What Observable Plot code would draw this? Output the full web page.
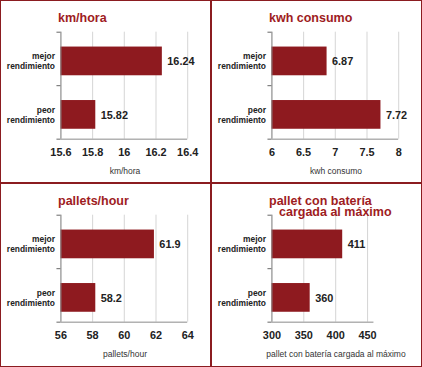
<!DOCTYPE html>
<html><head><meta charset="utf-8">
<script src="https://cdn.jsdelivr.net/npm/d3@7"></script>
<script src="https://cdn.jsdelivr.net/npm/@observablehq/plot@0.6"></script>
<style>
body{margin:0;background:#fff;font-family:"Liberation Sans",Arial,sans-serif;}
#wrap{position:relative;width:422px;height:367px;}
.panel{position:absolute;box-sizing:border-box;border:1px solid #8b1c20;overflow:hidden;}
.panel svg{position:absolute;left:-1px;top:-1px;}
.title{position:absolute;left:57px;top:12px;font-weight:bold;font-size:12.5px;color:#9e1c22;line-height:10.5px;white-space:pre;padding-left:10px;text-indent:-10px;}
.xlabel{position:absolute;left:0;width:248px;text-align:center;font-size:8.5px;line-height:10px;color:#333;white-space:nowrap;}
</style></head>
<body>
<div id="wrap"></div>
<script>
const categories = ["mejor\nrendimiento", "peor\nrendimiento"];
const titles = ["km/hora", "kwh consumo", "pallets/hour", "pallet con batería\ncargada al máximo"];
const axisLabels = ["km/hora", "kwh consumo", "pallets/hour", "pallet con batería cargada al máximo"];
const kmHora = [16.24, 15.82];
const kwhConsumo = [6.87, 7.72];
const palletsHour = [61.9, 58.2];
const palletBateria = [411, 360];
const domains = [[15.6, 16.4], [6, 8], [56, 64], [300, 460]];
const tickValues = [[15.6, 15.8, 16, 16.2, 16.4], [6, 6.5, 7, 7.5, 8], [56, 58, 60, 62, 64], [300, 350, 400, 450]];
const series = [kmHora, kwhConsumo, palletsHour, palletBateria];

const panels = [
  {left: 0, top: 0, w: 211, h: 183, mr: 22},
  {left: 211, top: 0, w: 211, h: 183, mr: 22},
  {left: 0, top: 183, w: 211, h: 184, mr: 22},
  {left: 211, top: 183, w: 211, h: 184, mr: 47}
];

const wrap = document.getElementById("wrap");
const font = '"Liberation Sans", Arial, sans-serif';

panels.forEach((p, i) => {
  const data = categories.map((c, j) => ({cat: c, value: series[i][j]}));
  const x0 = domains[i][0];
  const last = categories[categories.length - 1];
  const div = document.createElement("div");
  div.className = "panel";
  Object.assign(div.style, {left: p.left + "px", top: p.top + "px", width: p.w + "px", height: p.h + "px"});
  const chart = Plot.plot({
    width: p.w, height: p.h,
    marginLeft: 61, marginRight: p.mr, marginTop: 32, marginBottom: p.h - 140,
    x: {domain: domains[i], ticks: tickValues[i], tickFormat: d => String(d), tickSize: 0, tickPadding: 9, label: null},
    y: {domain: categories, padding: 0, axis: null},
    style: {fontFamily: font, fontSize: "11px", fontWeight: "bold", color: "#222", background: "transparent", overflow: "visible"},
    marks: [
      Plot.gridX(tickValues[i], {stroke: "#d4d4d4", strokeOpacity: 1}),
      Plot.barX(data, {x1: x0, x2: "value", y: "cat", fill: "#8e1a1f", insetTop: 15, insetBottom: 10}),
      Plot.ruleX([x0], {stroke: "#8a8a8a"}),
      Plot.ruleY([last], {y: d => d, dy: 27, stroke: "#8a8a8a"}),
      Plot.ruleY(categories, {y: d => d, x1: x0, x2: x0, insetLeft: -4, dy: -27, stroke: "#666"}),
      Plot.ruleY([last], {y: d => d, x1: x0, x2: x0, insetLeft: -4, dy: 27, stroke: "#666"}),
      Plot.text(data, {x: "value", y: "cat", text: d => String(d.value), textAnchor: "start", dx: 5, dy: 3, fontWeight: "bold", fontSize: 11, fill: "#222"}),
      Plot.text(data, {x: x0, y: "cat", text: "cat", textAnchor: "end", dx: -6, dy: 2, fontWeight: "bold", fontSize: 8.5, lineHeight: 1.18, fill: "#222"})
    ]
  });
  div.appendChild(chart);
  const td = document.createElement("div");
  td.className = "title";
  td.textContent = titles[i];
  div.appendChild(td);
  const xl = document.createElement("div");
  xl.className = "xlabel";
  xl.textContent = axisLabels[i];
  xl.style.top = "165px";
  div.appendChild(xl);
  wrap.appendChild(div);
});
</script>
</body></html>
